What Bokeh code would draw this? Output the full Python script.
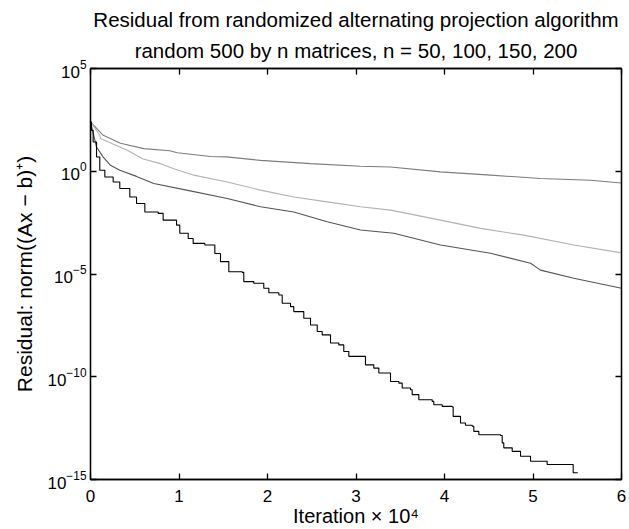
from bokeh.plotting import figure
from bokeh.models import FixedTicker, LinearAxis, LogAxis, Title
from bokeh.embed import file_html
from bokeh.resources import INLINE

# ---- data (iteration in units of 10^4, residual as log10 exponent) ----
n50_x = [0.0, 0.011, 0.03, 0.068, 0.105, 0.162, 0.256, 0.331, 0.444, 0.52, 0.614, 0.765, 0.821,
         0.972, 1.009, 1.104, 1.16, 1.292, 1.405, 1.469, 1.563, 1.714, 1.732, 1.845, 1.958, 2.015,
         2.128, 2.166, 2.26, 2.297, 2.373, 2.41, 2.486, 2.562, 2.618, 2.712, 2.806, 2.862, 2.919,
         3.088, 3.107, 3.201, 3.258, 3.371, 3.39, 3.484, 3.522, 3.616, 3.635, 3.71, 3.861, 3.879,
         3.974, 4.087, 4.098, 4.181, 4.237, 4.313, 4.331, 4.388, 4.633, 4.652, 4.67, 4.765, 4.859,
         4.972, 5.16, 5.443, 5.454, 5.506]
n50_log = [2.4, 1.99, 1.42, 0.69, 0.05, -0.28, -0.52, -0.84, -1.25, -1.57, -1.98, -2.05, -2.38,
           -2.62, -3.02, -3.27, -3.51, -3.59, -4.0, -4.4, -4.89, -4.92, -5.37, -5.45, -5.69, -5.91,
           -6.02, -6.42, -6.59, -6.83, -6.83, -7.15, -7.48, -7.8, -7.96, -8.36, -8.45, -8.77, -9.01,
           -9.01, -9.42, -9.58, -9.82, -9.82, -10.23, -10.31, -10.55, -10.63, -10.87, -11.12, -11.2,
           -11.36, -11.44, -11.47, -11.93, -12.25, -12.36, -12.41, -12.66, -12.82, -12.86, -13.22,
           -13.46, -13.63, -13.87, -14.11, -14.27, -14.27, -14.67, -14.67]

n100_x = [0.0, 0.068, 0.144, 0.226, 0.331, 0.52, 0.715, 1.085, 1.545, 1.921, 2.297, 2.675, 3.051,
          3.427, 3.955, 4.52, 4.972, 5.085, 5.461, 6.0]
n100_log = [2.4, 1.18, 0.69, 0.29, 0.05, -0.25, -0.6, -0.92, -1.33, -1.73, -1.98, -2.46, -2.86,
            -3.02, -3.59, -3.99, -4.48, -4.81, -5.21, -5.69]

n150_x = [0.0, 0.105, 0.113, 0.331, 0.415, 0.595, 0.791, 0.934, 1.167, 1.545, 1.921, 2.297, 2.675,
          3.051, 3.39, 3.955, 4.407, 4.896, 5.461, 6.0]
n150_log = [2.4, 1.75, 1.59, 1.18, 1.02, 0.6, 0.37, 0.13, -0.19, -0.52, -0.92, -1.25, -1.49,
            -1.73, -1.89, -2.38, -2.78, -3.11, -3.59, -3.97]

n200_x = [0.0, 0.144, 0.339, 0.602, 0.896, 0.98, 1.356, 1.537, 1.921, 2.486, 3.051, 3.39, 3.955,
          4.52, 5.085, 5.65, 6.0]
n200_log = [2.4, 1.75, 1.36, 1.1, 1.0, 0.9, 0.72, 0.7, 0.53, 0.37, 0.24, 0.21, -0.03, -0.19,
            -0.35, -0.44, -0.57]

x_ticks = [0, 1, 2, 3, 4, 5, 6]
y_ticks = [1e-15, 1e-10, 1e-5, 1e0, 1e5]

title_line1 = "Residual from randomized alternating projection algorithm"
title_line2 = "random 500 by n matrices, n = 50, 100, 150, 200"
x_label = "Iteration \u00d7 10\u2074"
y_label = "Residual: norm((Ax \u2212 b)\u207a)"

FONT = "Liberation Sans"

p = figure(width=629, height=529, y_axis_type="log", x_range=(0, 6), y_range=(1e-15, 1e5),
           output_backend="svg", toolbar_location=None, title=None,
           min_border_left=90, min_border_right=8, min_border_top=68, min_border_bottom=50)

xa = p.below[0]
ya = p.left[0]

top_ax = LinearAxis(ticker=FixedTicker(ticks=x_ticks, minor_ticks=[]),
                    major_label_overrides={t: "" for t in x_ticks},
                    major_tick_in=6, major_tick_out=0, minor_tick_in=0, minor_tick_out=0,
                    axis_line_width=1.3, major_tick_line_width=1.3, major_label_standoff=0)
right_ax = LogAxis(ticker=FixedTicker(ticks=y_ticks, minor_ticks=[]),
                   major_label_overrides={t: "" for t in y_ticks},
                   major_tick_in=6, major_tick_out=0, minor_tick_in=0, minor_tick_out=0,
                   axis_line_width=1.3, major_tick_line_width=1.3, major_label_standoff=0)
p.add_layout(top_ax, "above")
p.add_layout(right_ax, "right")

p.add_layout(Title(text=title_line2, align="center", text_font=FONT, text_font_size="20.5px",
                   text_font_style="normal", text_color="black", standoff=13), "above")
p.add_layout(Title(text=title_line1, align="center", text_font=FONT, text_font_size="20.5px",
                   text_font_style="normal", text_color="black", standoff=0), "above")

def tolin(v):
    return [10 ** e for e in v]

p.line(n200_x, tolin(n200_log), line_color="#7c7c7c", line_width=1.1)
p.line(n150_x, tolin(n150_log), line_color="#b2b2b2", line_width=1.1)
p.line(n100_x, tolin(n100_log), line_color="#555555", line_width=1.1)
p.step(n50_x, tolin(n50_log), mode="after", line_color="#000000", line_width=1.1)

p.grid.visible = False
p.outline_line_color = "black"
p.outline_line_width = 1.3

xa.ticker = FixedTicker(ticks=x_ticks, minor_ticks=[])
xa.axis_label = x_label
ya.ticker = FixedTicker(ticks=y_ticks, minor_ticks=[])
ya.axis_label = y_label

for ax in (xa, ya):
    ax.major_tick_in = 6
    ax.major_tick_out = 0
    ax.minor_tick_in = 0
    ax.minor_tick_out = 0
    ax.axis_line_width = 1.3
    ax.major_tick_line_width = 1.3
    ax.major_label_text_font = FONT
    ax.major_label_text_font_size = "17px"
    ax.major_label_text_color = "black"
    ax.axis_label_text_font = FONT
    ax.axis_label_text_font_style = "normal"
    ax.axis_label_text_color = "black"

xa.axis_label_text_font_size = "20px"
ya.axis_label_text_font_size = "21px"
xa.major_label_standoff = 10
xa.axis_label_standoff = 0
ya.major_label_standoff = 4
ya.axis_label_standoff = 8

open("out.html", "w").write(file_html(p, INLINE))
